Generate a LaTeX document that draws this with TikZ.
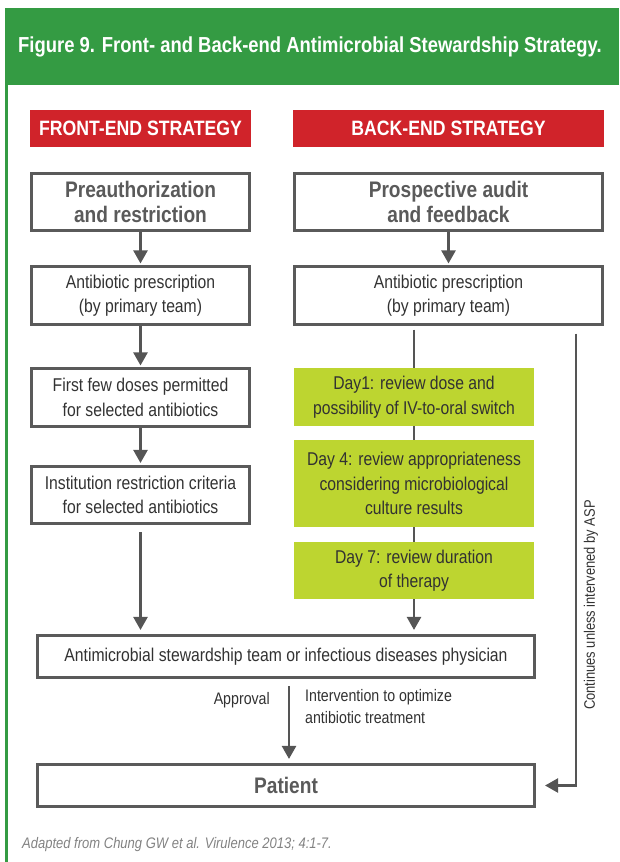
\documentclass[tikz,border=0pt]{standalone}
\usepackage{fontspec}
\setmainfont{Liberation Sans}[FakeStretch=0.85]
\usepackage{tikz}
\usetikzlibrary{arrows.meta}
\usetikzlibrary{positioning}
\definecolor{hdrgreen}{RGB}{52,155,67}
\definecolor{asred}{RGB}{208,35,42}
\definecolor{daygreen}{RGB}{189,213,48}
\definecolor{boxgray}{RGB}{90,90,90}
\definecolor{linegray}{RGB}{85,85,85}
\definecolor{txtgray}{RGB}{50,50,50}
\definecolor{capgray}{RGB}{130,130,130}
\newcommand{\bodyfont}{\fontsize{18.5}{24.5}\selectfont}
\newcommand{\titlefont}{\fontsize{22.5}{25}\selectfont\bfseries}
\newcommand{\headfont}{\fontsize{20.8}{24}\selectfont\bfseries}
\newcommand{\notefont}{\fontsize{16.7}{22}\selectfont}
\tikzstyle{every node}+=[inner sep=0pt]
\tikzstyle{block} = [rectangle, draw=boxgray, line width=2.6pt, text=txtgray, font=\bodyfont, align=center, minimum width=218pt, minimum height=57.5pt]
\tikzstyle{head} = [rectangle, fill=asred, text=white, font=\headfont, minimum height=37pt]
\tikzstyle{day} = [rectangle, fill=daygreen, text=txtgray, font=\bodyfont, align=center, minimum width=240pt]
\tikzstyle{line} = [draw=linegray, line width=2.4pt, -{Triangle[length=13pt,width=14pt]}]
\tikzstyle{stub} = [draw=linegray, line width=2.4pt]
\tikzstyle{value} = [text=txtgray, font=\notefont]

\begin{document}
\begin{tikzpicture}[x=1pt, y=-1pt]
            \useasboundingbox (0,0) rectangle (619,862);
            % Frame and title
            \fill [hdrgreen] (5,8) rectangle (619,85);
            \draw [hdrgreen, line width=2.5pt] (6.5,8) -- (6.5,862);
            \node [anchor=west, text=white, font=\fontsize{21.7}{25}\selectfont\bfseries] at (18,47) (title) {Figure 9. Front- and Back-end Antimicrobial Stewardship Strategy.};
            % Place nodes
            \node [head, minimum width=221pt] at (140.5,128.5) (fhead) {FRONT-END STRATEGY};
            \node [head, minimum width=311pt] at (448.5,128.5) (bhead) {BACK-END STRATEGY};
            \node [block, text=boxgray, font=\titlefont, below of=fhead, node distance=73.5pt] (fpre) {Preauthorization\\and restriction};
            \node [block, text=boxgray, font=\titlefont, minimum width=308.5pt, below of=bhead, node distance=73.5pt] (bpre) {Prospective audit\\and feedback};
            \node [block, below of=fpre, node distance=93.5pt] (fpresc) {Antibiotic prescription\\(by primary team)};
            \node [block, minimum width=308.5pt, below of=bpre, node distance=93.5pt] (bpresc) {Antibiotic prescription\\(by primary team)};
            \node [block, below of=fpresc, node distance=102pt] (ffirst) {First few doses permitted\\for selected antibiotics};
            \node [block, below of=ffirst, node distance=97.5pt] (finst) {Institution restriction criteria\\for selected antibiotics};
            \node [day, minimum height=58pt, below of=bpresc, node distance=101.5pt, xshift=-34.5pt] (day1) {Day1: review dose and\\possibility of IV-to-oral switch};
            \node [day, minimum height=87pt, below of=day1, node distance=86.5pt] (day4) {Day 4: review appropriateness\\considering microbiological\\culture results};
            \node [day, minimum height=57pt, below of=day4, node distance=87pt] (day7) {Day 7: review duration\\of therapy};
            \node [block, minimum width=497.5pt, minimum height=42.5pt] at (286,656.5) (asp) {Antimicrobial stewardship team or infectious diseases physician};
            \node [block, text=boxgray, font=\titlefont, minimum width=497.5pt, minimum height=42.5pt, below of=asp, node distance=129pt] (patient) {Patient};
            \node [value, anchor=east] at (270,700) (approve) {Approval};
            \node [value, anchor=north west, align=left] at (305,689) (optim) {Intervention to optimize\\antibiotic treatment};
            \node [value, font=\fontsize{15.2}{22}\selectfont, rotate=90] at (591,605) (cont) {Continues unless intervened by ASP};
            \node [anchor=west, text=capgray, font=\fontsize{15.3}{18}\selectfont\itshape] at (22,845) (src) {Adapted from Chung GW et al. Virulence 2013; 4:1-7.};
            % Draw edges
            \path [line, shorten >=2pt] (fpre) -- (fpresc);
            \path [line, shorten >=2pt] (bpre) -- (bpresc);
            \path [line, shorten >=2pt] (fpresc) -- (ffirst);
            \path [line, shorten >=2pt] (ffirst) -- (finst);
            \path [line, shorten <=7pt, shorten >=4pt] (finst) -- (finst |- asp.north);
            \path [stub, shorten <=4pt] (bpresc.south -| day1) -- (day1.north);
            \path [stub] (day1) -- (day4);
            \path [stub] (day4) -- (day7);
            \path [line, shorten >=4pt] (day7) -- (day7 |- asp.north);
            \path [line, shorten <=7pt, shorten >=4pt] ([xshift=3pt]asp.south) -- ([xshift=3pt]asp.south |- patient.north);
            \path [line, shorten >=9pt] ([xshift=-28pt, yshift=-8pt]bpresc.south east) |- (patient.east);
          \end{tikzpicture}
\end{document}
